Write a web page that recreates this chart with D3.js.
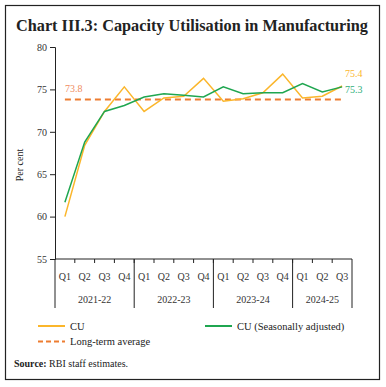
<!DOCTYPE html>
<html>
<head>
<meta charset="utf-8">
<script src="https://cdn.jsdelivr.net/npm/d3@7"></script>
<style>
  body { margin: 0; background: #fff; }
  text { font-family: "Liberation Serif", "DejaVu Serif", serif; }
</style>
</head>
<body>
<svg id="chart" width="386" height="387" fill="#222"></svg>
<script>
// ---- data ----
var quarters = ["Q1","Q2","Q3","Q4","Q1","Q2","Q3","Q4","Q1","Q2","Q3","Q4","Q1","Q2","Q3"];
var years = ["2021-22","2022-23","2023-24","2024-25"];
var yearSizes = [4, 4, 4, 3];
var cu = [60.0, 68.4, 72.4, 75.3, 72.4, 74.0, 74.2, 76.3, 73.6, 73.9, 74.6, 76.8, 74.0, 74.2, 75.4];
var cuSa = [61.7, 68.8, 72.4, 73.1, 74.1, 74.5, 74.3, 74.1, 75.3, 74.5, 74.6, 74.6, 75.7, 74.7, 75.3];
var longTermAvg = 73.8;
var yTicks = [55, 60, 65, 70, 75, 80];

var svg = d3.select("#chart");

// frame
svg.append("rect")
  .attr("x", 5.5).attr("y", 5.5)
  .attr("width", 374).attr("height", 374)
  .attr("fill", "none").attr("stroke", "#222").attr("stroke-width", 1.2);

// title
svg.append("text")
  .attr("x", 16).attr("y", 31)
  .attr("textLength", 352).attr("lengthAdjust", "spacingAndGlyphs")
  .style("font-size", "17px").style("font-weight", "bold")
  .text("Chart III.3: Capacity Utilisation in Manufacturing");

var pLeft = 55, pRight = 352, pTop = 47, pBottom = 259;

var x = d3.scaleBand().domain(d3.range(quarters.length)).range([pLeft, pRight]);
var y = d3.scaleLinear().domain([55, 80]).range([pBottom, pTop]);
var cx = function(i) { return x(i) + x.bandwidth() / 2; };

// y axis
var yAxis = d3.axisLeft(y).tickValues(yTicks).tickSize(5).tickPadding(3);
var gy = svg.append("g").attr("transform", "translate(" + pLeft + ",0)").call(yAxis);
gy.select(".domain").attr("stroke", "#222");
gy.selectAll(".tick line").attr("stroke", "#222");
gy.selectAll(".tick text").style("font-size", "10px").style("font-family", "Liberation Serif, serif").attr("fill", "#333");

svg.append("text")
  .attr("transform", "translate(23,165) rotate(-90)")
  .attr("text-anchor", "middle")
  .style("font-size", "10px")
  .text("Per cent");

// x axis line
svg.append("line")
  .attr("x1", pLeft).attr("x2", pRight)
  .attr("y1", pBottom).attr("y2", pBottom)
  .attr("stroke", "#222");

// quarter ticks and labels
for (var i = 0; i < quarters.length; i++) {
  if (i > 0) {
    svg.append("line")
      .attr("x1", x(i)).attr("x2", x(i))
      .attr("y1", pBottom).attr("y2", pBottom + 4)
      .attr("stroke", "#222");
  }
  svg.append("text")
    .attr("x", cx(i)).attr("y", 280)
    .attr("text-anchor", "middle")
    .style("font-size", "10px")
    .attr("fill", "#333")
    .text(quarters[i]);
}

// year separators and labels
var start = 0;
for (var k = 0; k <= years.length; k++) {
  var xs = k < years.length ? x(start) : pRight;
  svg.append("line")
    .attr("x1", xs).attr("x2", xs)
    .attr("y1", pBottom).attr("y2", 308)
    .attr("stroke", "#222");
  if (k < years.length) {
    var xe = start + yearSizes[k] < quarters.length ? x(start + yearSizes[k]) : pRight;
    svg.append("text")
      .attr("x", (xs + xe) / 2).attr("y", 303)
      .attr("text-anchor", "middle")
      .style("font-size", "10px")
      .attr("fill", "#333")
      .text(years[k]);
    start += yearSizes[k];
  }
}

var line = d3.line().x(function(d, i) { return cx(i); }).y(function(d) { return y(d); });

// long-term average
svg.append("line")
  .attr("x1", cx(0)).attr("x2", cx(quarters.length - 1))
  .attr("y1", y(longTermAvg)).attr("y2", y(longTermAvg))
  .attr("stroke", "#ed7d31").attr("stroke-width", 2)
  .attr("stroke-dasharray", "6,4");

svg.append("path").datum(cu)
  .attr("d", line).attr("fill", "none")
  .attr("stroke", "#fbb62b").attr("stroke-width", 1.5);

svg.append("path").datum(cuSa)
  .attr("d", line).attr("fill", "none")
  .attr("stroke", "#1fa650").attr("stroke-width", 1.5);

// value labels
svg.append("text").attr("x", 65).attr("y", 92)
  .style("font-size", "10px").attr("fill", "#f08c5e")
  .text(longTermAvg.toFixed(1));
svg.append("text").attr("x", 345).attr("y", 77)
  .style("font-size", "10px").attr("fill", "#fbb62b")
  .text(cu[cu.length - 1].toFixed(1));
svg.append("text").attr("x", 345).attr("y", 93)
  .style("font-size", "10px").attr("fill", "#2eae7a")
  .text(cuSa[cuSa.length - 1].toFixed(1));

// legend
var legend = [
  { label: "CU", color: "#fbb62b", dash: null, x: 38, y: 326 },
  { label: "CU (Seasonally adjusted)", color: "#1fa650", dash: null, x: 205, y: 326 },
  { label: "Long-term average", color: "#ed7d31", dash: "5,3", x: 38, y: 341.5 }
];
legend.forEach(function(d) {
  svg.append("line")
    .attr("x1", d.x).attr("x2", d.x + 27)
    .attr("y1", d.y).attr("y2", d.y)
    .attr("stroke", d.color).attr("stroke-width", 2)
    .attr("stroke-dasharray", d.dash);
  svg.append("text")
    .attr("x", d.x + 32).attr("y", d.y + 3.5)
    .style("font-size", "10.5px")
    .text(d.label);
});

// source
var src = svg.append("text").attr("x", 14).attr("y", 367).style("font-size", "10px");
src.append("tspan").style("font-weight", "bold").text("Source:");
src.append("tspan").text(" RBI staff estimates.");
</script>
</body>
</html>
